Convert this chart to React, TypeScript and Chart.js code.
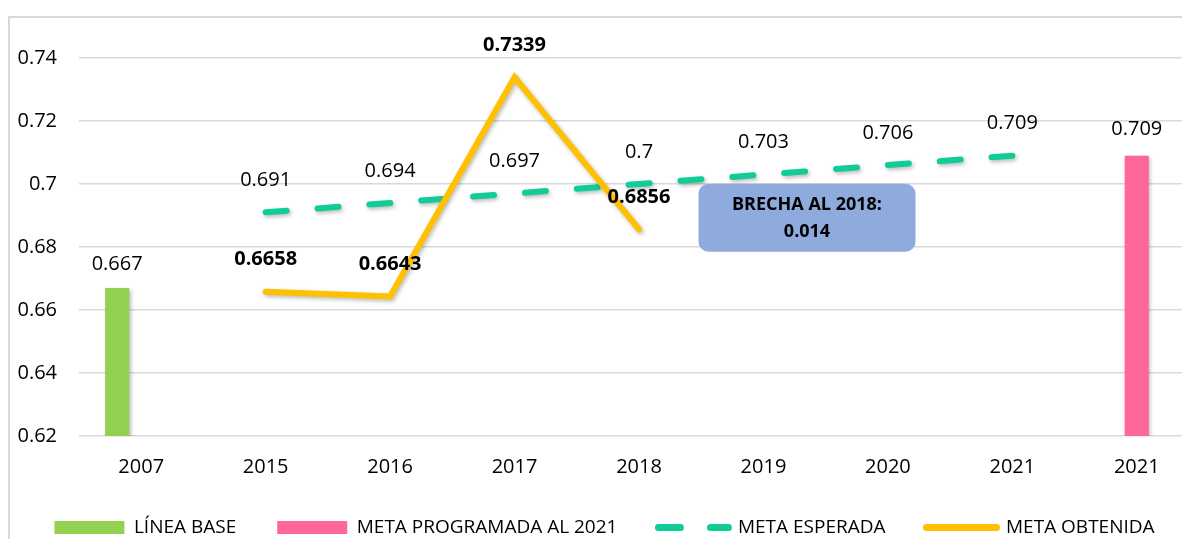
import React, { useEffect, useRef } from "react";
import { Chart, registerables } from "chart.js";

Chart.register(...registerables);

// ---- data ----
const categories = ["2007", "2015", "2016", "2017", "2018", "2019", "2020", "2021", "2021"];
const lineaBase = [0.667, null, null, null, null, null, null, null, null];
const metaProgramada = [null, null, null, null, null, null, null, null, 0.709];
const spacer = [null, null, null, null, null, null, null, null, null];
const metaEsperada = [null, 0.691, 0.694, 0.697, 0.7, 0.703, 0.706, 0.709, null];
const metaObtenida = [null, 0.6658, 0.6643, 0.7339, 0.6856, null, null, null, null];

const seriesNames = ["LÍNEA BASE", "META PROGRAMADA AL 2021", "", "META ESPERADA", "META OBTENIDA"];
const yMin = 0.62;
const yMax = 0.74;
const yStep = 0.02;

const gapText = ["BRECHA AL 2018:", "0.014"];
const gapAnchorIndex = 5.35;
const gapAnchorValue = 0.6893;

// ---- styles ----
const FONT = "'Open Sans', 'Noto Sans', sans-serif";
const GREEN = "#92D050";
const PINK = "#FF6699";
const TEAL = "#12CC98";
const YELLOW = "#FFC000";
const BOX = "#8FAADC";

const labelStyles: Record<number, { bold: boolean; offset: number }> = {
  0: { bold: false, offset: 24 },
  1: { bold: false, offset: 26 },
  3: { bold: false, offset: 32 },
  4: { bold: true, offset: 32 },
};

const legendStyles: Record<number, any> = {
  0: { pointStyle: "rect", fillStyle: GREEN, strokeStyle: GREEN, lineWidth: 0, lineDash: [] },
  1: { pointStyle: "rect", fillStyle: PINK, strokeStyle: PINK, lineWidth: 0, lineDash: [] },
  3: { pointStyle: "line", fillStyle: "rgba(0,0,0,0)", strokeStyle: TEAL, lineWidth: 7, lineDash: [22, 30], lineCap: "round" },
  4: { pointStyle: "line", fillStyle: "rgba(0,0,0,0)", strokeStyle: YELLOW, lineWidth: 7, lineDash: [], lineCap: "round" },
};

// chart frame (Excel chart-area border) drawn on the canvas itself
const framePlugin = {
  id: "frame",
  beforeDraw(chart: any) {
    const ctx = chart.ctx;
    ctx.save();
    ctx.strokeStyle = "#d9d9d9";
    ctx.lineWidth = 2;
    ctx.strokeRect(1, 1, chart.width + 20, chart.height + 20);
    ctx.restore();
  },
};

const shadowPlugin = {
  id: "shadowPlugin",
  beforeDatasetDraw(chart: any) {
    const ctx = chart.ctx;
    ctx.save();
    ctx.shadowColor = "rgba(0,0,0,0.28)";
    ctx.shadowBlur = 4;
    ctx.shadowOffsetX = 1.5;
    ctx.shadowOffsetY = 2;
  },
  afterDatasetDraw(chart: any) {
    chart.ctx.restore();
  },
};

const valueLabelPlugin = {
  id: "valueLabels",
  afterDatasetsDraw(chart: any) {
    const ctx = chart.ctx;
    chart.data.datasets.forEach((ds: any, i: number) => {
      const st = labelStyles[i];
      if (!st) return;
      const meta = chart.getDatasetMeta(i);
      meta.data.forEach((el: any, j: number) => {
        const v = ds.data[j];
        if (v === null || v === undefined) return;
        ctx.save();
        ctx.font = `${st.bold ? "bold " : ""}20px ${FONT}`;
        ctx.fillStyle = "#000";
        ctx.textAlign = "center";
        ctx.textBaseline = "middle";
        ctx.fillText(String(v), el.x, el.y - st.offset);
        ctx.restore();
      });
    });
  },
};

const gapBoxPlugin = {
  id: "gapBox",
  afterDatasetsDraw(chart: any) {
    const ctx = chart.ctx;
    const xs = chart.scales.x;
    const ys = chart.scales.y;
    const step = xs.getPixelForValue(1) - xs.getPixelForValue(0);
    const cx = xs.getPixelForValue(Math.floor(gapAnchorIndex)) + (gapAnchorIndex - Math.floor(gapAnchorIndex)) * step;
    const cy = ys.getPixelForValue(gapAnchorValue);
    const w = 217;
    const h = 68;
    ctx.save();
    ctx.fillStyle = BOX;
    ctx.beginPath();
    ctx.roundRect(cx - w / 2, cy - h / 2, w, h, 10);
    ctx.fill();
    ctx.fillStyle = "#000";
    ctx.font = `bold 18px ${FONT}`;
    ctx.textAlign = "center";
    ctx.textBaseline = "middle";
    ctx.fillText(gapText[0], cx, cy - 13);
    ctx.fillText(gapText[1], cx, cy + 14);
    ctx.restore();
  },
};

const pageCss =
  "html,body{overflow:hidden !important;scrollbar-width:none;margin:0}" +
  "html::-webkit-scrollbar,body::-webkit-scrollbar{display:none;width:0;height:0}";

export default function App() {
  const ref = useRef<HTMLCanvasElement | null>(null);

  useEffect(() => {
    document.documentElement.style.overflow = "hidden";
    document.body.style.margin = "0";
    if (!ref.current) return;
    const chart = new Chart(ref.current, {
      type: "bar",
      data: {
        labels: categories,
        datasets: [
          {
            type: "bar",
            label: seriesNames[0],
            data: lineaBase,
            backgroundColor: GREEN,
            barPercentage: 1,
            categoryPercentage: 0.58,
            order: 3,
          },
          {
            type: "bar",
            label: seriesNames[1],
            data: metaProgramada,
            backgroundColor: PINK,
            barPercentage: 1,
            categoryPercentage: 0.58,
            order: 3,
          },
          {
            type: "bar",
            label: seriesNames[2],
            data: spacer,
            backgroundColor: "rgba(0,0,0,0)",
            barPercentage: 1,
            categoryPercentage: 0.58,
            order: 3,
          },
          {
            type: "line",
            label: seriesNames[3],
            data: metaEsperada,
            borderColor: TEAL,
            backgroundColor: TEAL,
            borderWidth: 6,
            borderDash: [21, 31],
            borderCapStyle: "round",
            pointRadius: 0,
            tension: 0,
            order: 2,
          },
          {
            type: "line",
            label: seriesNames[4],
            data: metaObtenida,
            borderColor: YELLOW,
            backgroundColor: YELLOW,
            borderWidth: 6,
            borderCapStyle: "round",
            borderJoinStyle: "miter",
            pointRadius: 0,
            tension: 0,
            order: 1,
          },
        ] as any,
      },
      options: {
        animation: false,
        responsive: false,
        events: [],
        layout: { padding: { left: 2, right: 13, top: 42, bottom: 0 } },
        scales: {
          x: {
            grid: { display: false, drawTicks: false },
            border: { display: false },
            ticks: {
              color: "#000",
              font: { family: FONT, size: 20 },
              padding: 19,
              maxRotation: 0,
              autoSkip: false,
            },
            afterFit: (s: any) => {
              s.height = 41;
            },
          },
          y: {
            min: yMin,
            max: yMax,
            grid: { color: "#d9d9d9", lineWidth: 1.5, drawTicks: false },
            border: { display: false },
            ticks: {
              stepSize: yStep,
              color: "#000",
              font: { family: FONT, size: 20 },
              padding: 22,
              callback: (v: any) => String(Number(Number(v).toFixed(2))),
            },
            afterFit: (s: any) => {
              s.width = 69;
            },
          },
        },
        plugins: {
          tooltip: { enabled: false },
          legend: {
            position: "bottom",
            labels: {
              usePointStyle: true,
              pointStyleWidth: 70,
              boxHeight: 13,
              padding: 41,
              color: "#000",
              font: { family: FONT, size: 19 },
              generateLabels: (c: any) => {
                const items = (Chart.defaults.plugins.legend.labels as any).generateLabels(c);
                return items
                  .filter((it: any) => legendStyles[it.datasetIndex])
                  .sort((a: any, b: any) => a.datasetIndex - b.datasetIndex)
                  .map((it: any) => ({ ...it, ...legendStyles[it.datasetIndex], rotation: 0, hidden: false }));
              },
            },
          },
        },
      } as any,
      plugins: [framePlugin, shadowPlugin, valueLabelPlugin, gapBoxPlugin],
    });
    return () => chart.destroy();
  }, []);

  return (
    <div style={{ paddingTop: 16, paddingLeft: 8, width: 1174, height: 523, overflow: "hidden" }}>
      <style>{pageCss}</style>
      <canvas ref={ref} width={1204} height={531} style={{ display: "block", width: 1204, height: 531 }} />
    </div>
  );
}
